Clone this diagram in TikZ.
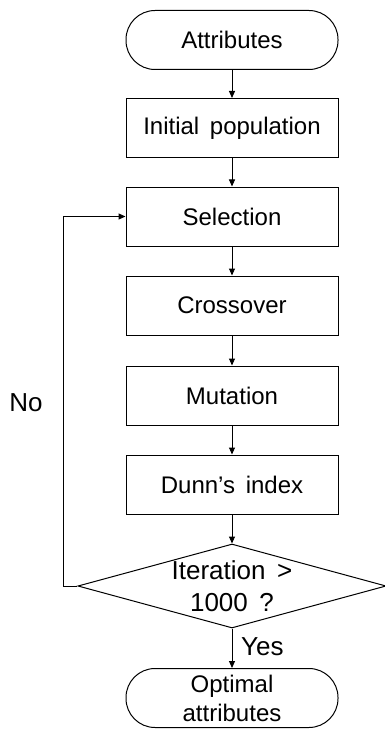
\documentclass[tikz,border=0pt]{standalone}
\usepackage{fontspec}
\setmainfont{Liberation Sans}[WordSpace=1.6]
\usetikzlibrary{shapes.geometric,arrows.meta}
\begin{document}
\begin{tikzpicture}[x=1pt,y=-1pt,
  every node/.style={font=\fontsize{24}{29}\selectfont},
  procbox/.style={draw,line width=1pt,rectangle,minimum width=212pt,minimum height=59pt,inner sep=0pt},
  termbox/.style={procbox,rounded corners=29pt,align=center},
  decbox/.style={draw,line width=1pt,diamond,aspect=3.67,minimum width=308pt,minimum height=84pt,inner sep=0pt,align=center,font=\fontsize{26}{32}\selectfont},
  flow/.style={line width=1pt,-{Triangle[length=7pt,width=6pt]}},
  lbl/.style={inner sep=0pt,font=\fontsize{26}{30}\selectfont}]
\useasboundingbox (0,0) rectangle (385,730);
\node[termbox] (attr) at (232,40) {Attributes};
\node[procbox] (init) at (232,128) {Initial population};
\node[procbox] (sel) at (232,216.5) {Selection};
\node[procbox] (cross) at (232,305.5) {Crossover};
\node[procbox] (mut) at (232,395.5) {Mutation};
\node[procbox] (dunn) at (232,484.5) {Dunn’s index};
\node[decbox] (iter) at (232,586) {Iteration >\\1000 ?};
\node[termbox] (opt) at (232,698) {Optimal\\attributes};
\coordinate (loopa) at (63,586);
\coordinate (loopb) at (63,216.5);
\draw[flow] (attr) -- (init);
\draw[flow] (init) -- (sel);
\draw[flow] (sel) -- (cross);
\draw[flow] (cross) -- (mut);
\draw[flow] (mut) -- (dunn);
\draw[flow] (dunn) -- (iter.north);
\draw[flow] (iter.south) -- (opt);
\draw[flow] (iter.west) -- (loopa) -- (loopb) -- (sel.west);
\node[lbl] (no) at (26,403) {No};
\node[lbl,anchor=west] (yes) at (241,647) {Yes};
\end{tikzpicture}
\end{document}
